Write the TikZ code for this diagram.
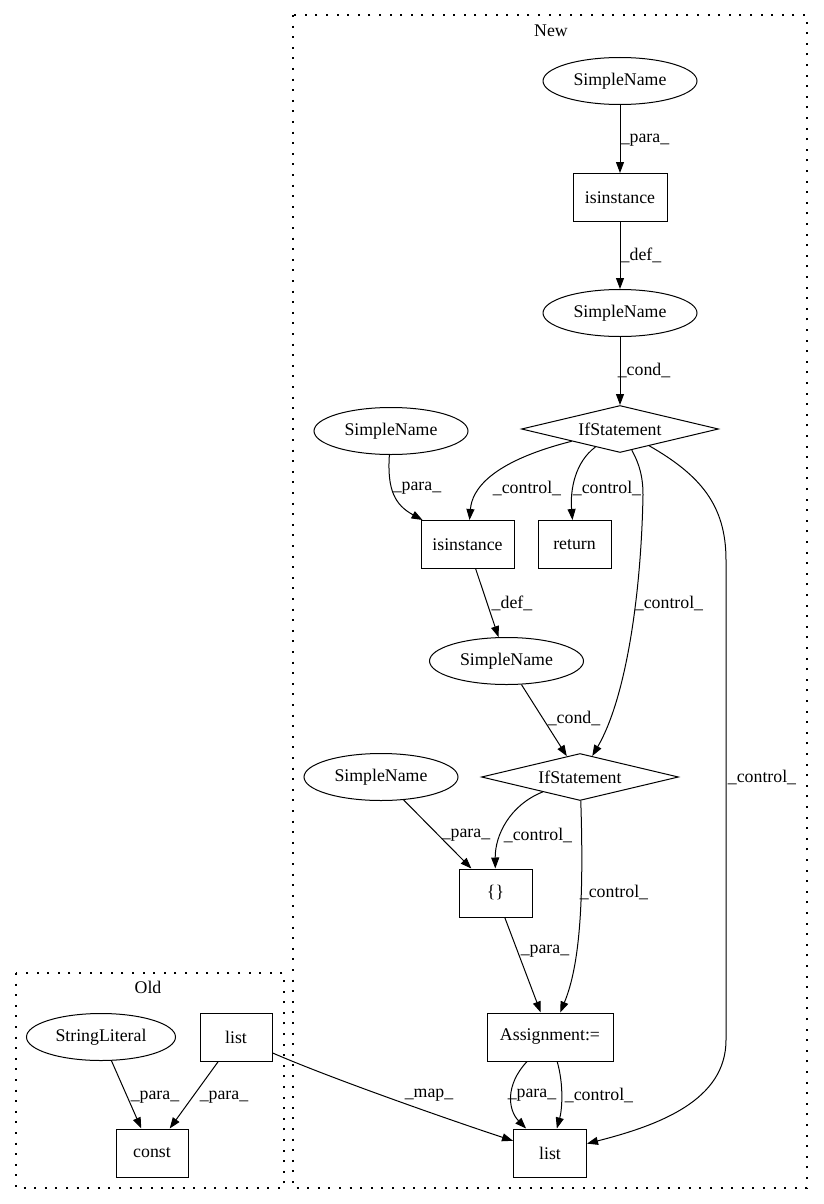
\documentclass[tikz,border=0pt]{standalone}
\usepackage{fontspec}
\setmainfont{Liberation Serif}
\usetikzlibrary{arrows.meta,shapes.geometric}
\tikzset{
  every node/.style={font=\fontsize{17.8}{20}\selectfont},
  ell/.style={draw, ellipse, line width=1pt, inner sep=0pt, minimum width=154pt, minimum height=47pt},
  box/.style={draw, rectangle, line width=1pt, inner sep=0pt, minimum height=48pt},
  dia/.style={draw, diamond, aspect=4.2, line width=1pt, inner sep=0pt, minimum width=197pt, minimum height=47pt},
  edge/.style={line width=1pt, -{Triangle[length=11pt,width=8pt]}},
  lbl/.style={inner sep=0pt, anchor=center},
  cluster/.style={line width=1.4pt, dash pattern=on 2pt off 8.6pt}
}
\begin{document}
\begin{tikzpicture}[x=1pt,y=-1pt]
\useasboundingbox (0,0) rectangle (823,1204);
% clusters
\draw[cluster] (293,15) rectangle (807,1188);
\node[lbl] (newlbl) at (551,31) {New};
\draw[cluster] (16,973) rectangle (284,1188);
\node[lbl] (oldlbl) at (148,987) {Old};
% nodes
\node[ell] (sn1) at (620,81) {SimpleName};
\node[box, minimum width=94pt] (isi1) at (620,197.5) {isinstance};
\node[ell] (sn2) at (620,313) {SimpleName};
\node[dia] (if1) at (620,429) {IfStatement};
\node[ell] (sn3) at (391,431) {SimpleName};
\node[box, minimum width=93pt] (isi2) at (467.5,544.5) {isinstance};
\node[box, minimum width=73pt] (ret) at (574.5,544.5) {return};
\node[ell] (sn4) at (506.5,661) {SimpleName};
\node[dia] (if2) at (580,777) {IfStatement};
\node[ell] (sn5) at (381,777) {SimpleName};
\node[box, minimum width=73pt] (brace) at (495.5,893) {\{\}};
\node[box, minimum width=126pt] (asg) at (550,1037) {Assignment:=};
\node[box, minimum width=73pt] (lst) at (550,1153) {list};
\node[ell, minimum width=149pt] (strl) at (101,1037) {StringLiteral};
\node[box, minimum width=72pt] (lsto) at (236,1037) {list};
\node[box, minimum width=72pt] (const) at (152,1153) {const};
% edges
\draw[edge] (sn1) -- (isi1);
\node[lbl] (l1) at (645,140) {\_para\_};
\draw[edge] (isi1) -- (sn2);
\node[lbl] (l2) at (641,255) {\_def\_};
\draw[edge] (sn2) -- (if1);
\node[lbl] (l3) at (644,370) {\_cond\_};
\draw[edge] (sn3) .. controls (387,490) and (395,505) .. (isi2);
\node[lbl] (l4) at (417,488) {\_para\_};
\draw[edge] (if1) .. controls (490,462) and (472,490) .. (isi2);
\node[lbl] (l5) at (527,488) {\_control\_};
\draw[edge] (if1) .. controls (575,462) and (570,490) .. (ret);
\node[lbl] (l6) at (607,488) {\_control\_};
\coordinate (w1) at (643,495);
\draw[edge] (if1) .. controls (640,465) and (643,478) .. (w1) .. controls (641,600) and (625,700) .. (if2);
\node[lbl] (l7) at (669,603) {\_control\_};
\coordinate (w2) at (726,560);
\coordinate (w3) at (726,1040);
\draw[edge] (if1) .. controls (700,475) and (726,505) .. (w2) -- (w3) .. controls (726,1100) and (660,1125) .. (lst);
\node[lbl] (l8) at (762,777) {\_control\_};
\draw[edge] (isi2) -- (sn4);
\node[lbl] (l9) at (512,603) {\_def\_};
\draw[edge] (sn4) -- (if2);
\node[lbl] (l10) at (574,718) {\_cond\_};
\draw[edge] (sn5) -- (brace);
\node[lbl] (l11) at (466,835) {\_para\_};
\draw[edge] (if2) .. controls (510,805) and (495,835) .. (brace);
\node[lbl] (l12) at (538,835) {\_control\_};
\draw[edge] (if2) .. controls (584,900) and (580,965) .. (asg);
\node[lbl] (l13) at (614,892) {\_control\_};
\draw[edge] (brace) -- (asg);
\node[lbl] (l14) at (545,951) {\_para\_};
\draw[edge] (asg) .. controls (505,1085) and (508,1110) .. (lst);
\node[lbl] (l15) at (532,1095) {\_para\_};
\draw[edge] (asg) .. controls (564,1085) and (562,1110) .. (lst);
\node[lbl] (l16) at (599,1095) {\_control\_};
\draw[edge] (lsto) .. controls (330,1078) and (450,1120) .. (lst);
\node[lbl] (l17) at (429,1095) {\_map\_};
\draw[edge] (strl) -- (const);
\node[lbl] (l18) at (155,1097) {\_para\_};
\draw[edge] (lsto) -- (const);
\node[lbl] (l19) at (224,1097) {\_para\_};
\end{tikzpicture}
\end{document}
